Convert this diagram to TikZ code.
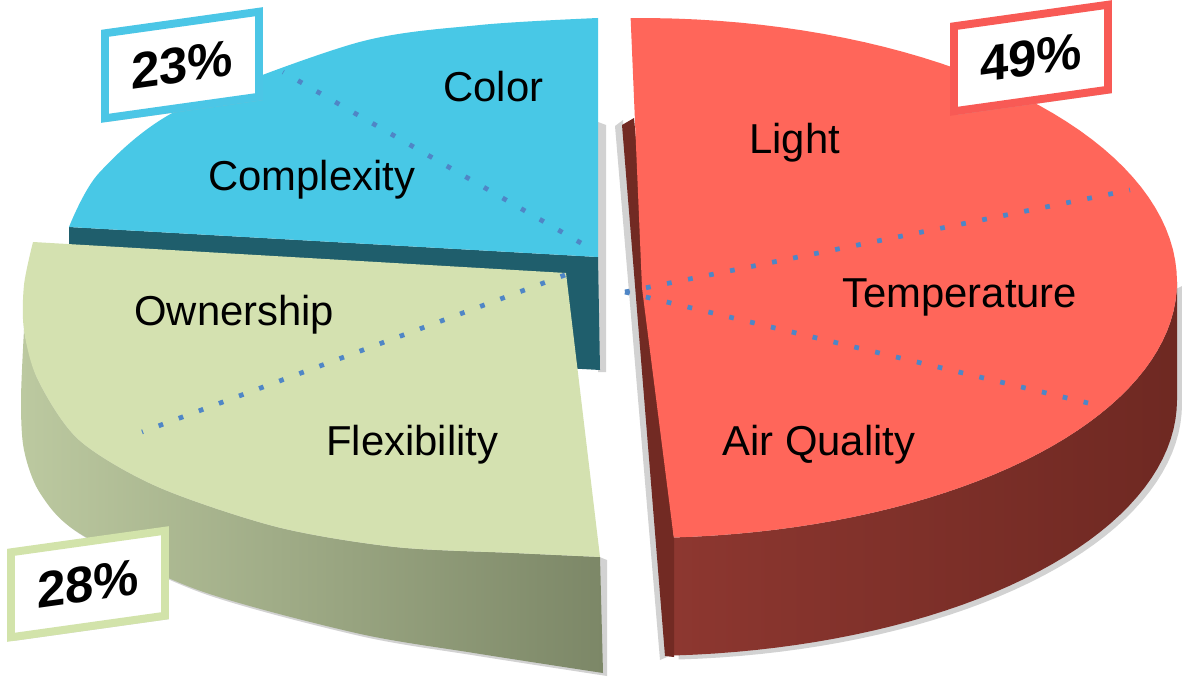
\documentclass[tikz,border=0pt]{standalone}
\usepackage{fontspec}
\setmainfont{Liberation Sans}
\usepackage{xcolor}
\usetikzlibrary{shadows}
\definecolor{bluetop}{HTML}{48C8E6}
\definecolor{blueside}{HTML}{1F5E6C}
\definecolor{greentop}{HTML}{D4E1B0}
\definecolor{greenlight}{HTML}{BCC9A0}
\definecolor{greendark}{HTML}{7C8767}
\definecolor{redtop}{HTML}{FF665A}
\definecolor{redside}{HTML}{782C25}
\definecolor{redlight}{HTML}{8D3730}
\definecolor{dotblue}{HTML}{4F86C6}
\definecolor{redframe}{HTML}{F85A55}
\definecolor{blueframe}{HTML}{4BC6E6}
\definecolor{greenframe}{HTML}{D2E3AA}

\begin{document}
\begin{tikzpicture}[
    x=0.02cm, y=-0.02cm,
    dotline/.style={dotblue, line width=2.7pt, line cap=butt, dash pattern=on 2.7pt off 9.5pt},
    txt/.style={font=\fontsize{23.8}{28}\selectfont, anchor=base west, inner sep=0pt},
    pct/.style={rectangle, draw=#1, fill=white, line width=4.5pt, minimum width=3.08cm, minimum height=1.7cm, inner sep=0pt, yslant=0.14, font=\bfseries\fontsize{29}{34}\selectfont, drop shadow={shadow xshift=2pt, shadow yshift=-2pt, fill=black!30, opacity=0.5}},
    gap/.style={fill=gray!35}
]

\useasboundingbox (0,0) rectangle (1182,679);
\fill[white] (0,0) rectangle (1182,679);

% shadows in the gaps
\fill[gap] (598,122) -- (606,125) -- (606,372) -- (598,372) -- cycle;
\fill[gap] (615,126) -- (623,120) -- (667,657) -- (660,660) -- cycle;

% blue slice
\fill[blueside] (69,227) -- (598,257) -- (600,370) -- (69,340) -- cycle;
\fill[bluetop] (598,18) -- (598,257) -- (69,227) -- plot[smooth] coordinates {(69,227) (99,173) (178,110) (356,43) (480,25) (598,18)} -- cycle;

% green slice
\fill[gap, shift={(4,3)}] (24,330) -- plot[smooth] coordinates {(24,330) (21,400) (24,450) (40,493) (79,533) (198,590) (356,633) (474,653) (603,673)} -- (603,557) -- cycle;
\shade[left color=greenlight, right color=greendark] (24,330) -- plot[smooth] coordinates {(24,330) (38,380) (79,440) (158,487) (277,527) (395,547) (514,553) (600,557)} -- (603,673) -- plot[smooth] coordinates {(603,673) (474,653) (356,633) (198,590) (79,533) (40,493) (24,450) (21,400) (24,330)} -- cycle;
\fill[greentop] (33,242) -- (566,273) -- (600,557) -- plot[smooth] coordinates {(600,557) (514,553) (395,547) (277,527) (158,487) (79,440) (38,380) (24,330) (24,285) (33,242)} -- cycle;

% red slice
\fill[gap, shift={(5,4)}] (674,538) -- (1177,282) -- plot[domain=0:-86.4, samples=40] ({640+537*cos(\x)}, {400-256*sin(\x)}) -- cycle;
\shade[left color=redlight, middle color=redside, right color=redside!92!black] plot[domain=-86.4:0, samples=40] ({640+537*cos(\x)}, {282-256*sin(\x)}) -- plot[domain=0:-86.4, samples=40] ({640+537*cos(\x)}, {400-256*sin(\x)}) -- cycle;
\fill[redside!95!black] (622,125) -- (634,118) -- (674,538) -- (674,657) -- (665,656) -- cycle;
\fill[redtop] (642,288) -- plot[domain=91:0, samples=40] ({640+537*cos(\x)}, {282-264*sin(\x)}) -- plot[domain=0:-86.4, samples=40] ({640+537*cos(\x)}, {282-256*sin(\x)}) -- cycle;

% dotted dividers
\coordinate (redc) at (625,292);
\coordinate (redup) at (1130,190);
\coordinate (reddown) at (1088,403);
\coordinate (bluec) at (581,243);
\coordinate (blueout) at (283,72);
\coordinate (greenc) at (565,275);
\coordinate (greenout) at (142,432);
\draw[dotline] (redc) -- (redup);
\draw[dotline] (redc) -- (reddown);
\draw[dotline] (bluec) -- (blueout);
\draw[dotline] (greenc) -- (greenout);

% labels
\node[txt] (color) at (443,101) {Color};
\node[txt] (complexity) at (208,190) {Complexity};
\node[txt] (ownership) at (134,325) {Ownership};
\node[txt] (flexibility) at (326,455) {Flexibility};
\node[txt] (light) at (749,153) {Light};
\node[txt] (temperature) at (842,307) {Temperature};
\node[txt] (airquality) at (722,455) {Air Quality};

\node[pct=blueframe] (bluepct) at (182,65) {23\%};
\node[pct=redframe] (redpct) at (1031,58) {49\%};
\node[pct=greenframe] (greenpct) at (88,584) {28\%};

\end{tikzpicture}
\end{document}
